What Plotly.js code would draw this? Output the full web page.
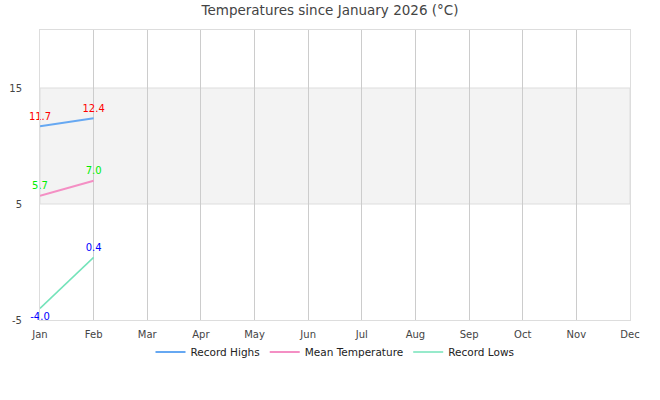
<!DOCTYPE html>
<html>
<head>
<meta charset="utf-8">
<script src="https://cdn.plot.ly/plotly-3.0.1.min.js"></script>
<style>
  html, body { margin: 0; padding: 0; background: #fff; }
  #chart { width: 660px; height: 400px; }
</style>
</head>
<body>
<div id="chart"></div>
<script>
  var months = ["Jan", "Feb", "Mar", "Apr", "May", "Jun", "Jul", "Aug", "Sep", "Oct", "Nov", "Dec"];
  var highMonths = ["Jan", "Feb"];
  var recordHighs = [11.7, 12.4];
  var meanTemps = [5.7, 7.0];
  var recordLows = [-4.0, 0.4];
  var yTicks = [-5, 5, 15];
  var bandLow = 5;
  var bandHigh = 15;

  function labels(vals) {
    return vals.map(function (v) { return v.toFixed(1); });
  }

  // transparent markers only push the value labels a bit off the line
  var ghost = { size: 5, color: "rgba(0,0,0,0)", line: { width: 0 } };

  var traces = [{
    x: highMonths,
    y: recordHighs,
    name: "Record Highs",
    type: "scatter",
    mode: "lines+markers+text",
    text: labels(recordHighs),
    textposition: "top center",
    textfont: { color: "#ff0000", size: 10 },
    cliponaxis: false,
    marker: ghost,
    line: { color: "#66a8f2", width: 2 },
    hoverinfo: "y"
  }, {
    x: highMonths,
    y: meanTemps,
    name: "Mean Temperature",
    type: "scatter",
    mode: "lines+markers+text",
    text: labels(meanTemps),
    textposition: "top center",
    textfont: { color: "#00ee00", size: 10 },
    cliponaxis: false,
    marker: ghost,
    line: { color: "#f48fc4", width: 2 },
    hoverinfo: "y"
  }, {
    x: highMonths,
    y: recordLows,
    name: "Record Lows",
    type: "scatter",
    mode: "lines+markers+text",
    text: labels(recordLows),
    textposition: ["bottom center", "top center"],
    textfont: { color: "#0000ff", size: 10 },
    cliponaxis: false,
    marker: ghost,
    line: { color: "#74e3ba", width: 1.5 },
    hoverinfo: "y"
  }];

  var layout = {
    width: 660,
    height: 400,
    margin: { l: 40, r: 30, t: 30, b: 80 },
    paper_bgcolor: "#fff",
    plot_bgcolor: "#fff",
    font: { family: "DejaVu Sans, sans-serif", size: 10, color: "#444" },
    title: {
      text: "Temperatures since January 2026 (°C)",
      font: { size: 13.5, color: "#444" },
      x: 0.5, xanchor: "center", y: 0.985, yanchor: "top"
    },
    showlegend: true,
    legend: {
      orientation: "h",
      x: 0.5, xanchor: "center",
      y: -0.06, yanchor: "top",
      bgcolor: "rgba(0,0,0,0)",
      font: { size: 10.5, color: "#222" },
      itemwidth: 30
    },
    xaxis: {
      type: "category",
      categoryorder: "array",
      categoryarray: months,
      tickvals: months,
      range: [0, 11],
      showgrid: true,
      gridcolor: "#cccccc",
      gridwidth: 1,
      showline: true,
      linecolor: "#dddddd",
      mirror: true,
      zeroline: false,
      ticks: "",
      ticklabelstandoff: 5,
      tickfont: { size: 10, color: "#444" },
      fixedrange: true
    },
    yaxis: {
      range: [-5, 20],
      tickvals: yTicks,
      ticktext: yTicks.map(String),
      showgrid: false,
      zeroline: false,
      showline: true,
      linecolor: "#dddddd",
      mirror: true,
      ticks: "",
      ticklabelstandoff: 15,
      tickfont: { size: 10, color: "#444" },
      fixedrange: true
    },
    shapes: [{
      type: "rect",
      xref: "paper", yref: "y",
      x0: 0, x1: 1,
      y0: bandLow, y1: bandHigh,
      fillcolor: "#f3f3f3",
      line: { color: "#dddddd", width: 1 },
      layer: "below"
    }]
  };

  Plotly.newPlot("chart", traces, layout, { displayModeBar: false, staticPlot: true });
</script>
</body>
</html>
